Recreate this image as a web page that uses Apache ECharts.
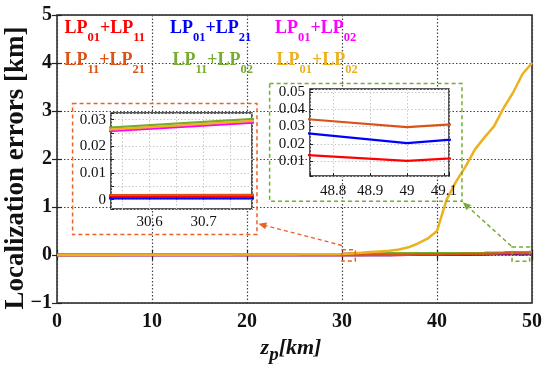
<!DOCTYPE html>
<html><head><meta charset="utf-8">
<script src="https://cdn.jsdelivr.net/npm/echarts@6.0.0/dist/echarts.min.js"></script>
<style>html,body{margin:0;padding:0;background:#fff}#c{width:550px;height:375px}</style>
</head><body><div id="c"></div>
<script>
// ---------- data ----------
const zp = [0,1,2,3,4,5,6,7,8,9,10,11,12,13,14,15,16,17,18,19,20,21,22,23,24,25,26,27,28,29,30,31,32,33,34,35,36,37,38,39,40,41,42,43,44,45,46,47,48,49,50];
const xTicks = [0,10,20,30,40,50];
const yTicks = [-1,0,1,2,3,4,5];

const lp01_lp11 = [0.0002,0.0003,0.0003,0.0004,0.0004,0.0005,0.0005,0.0005,0.0006,0.0006,
  0.0006,0.0007,0.0007,0.0007,0.0008,0.0008,0.0008,0.0009,0.0009,0.0009,
  0.0010,0.0010,0.0010,0.0011,0.0011,0.0011,0.0011,0.0012,0.0012,0.0012,
  0.0012,0.0013,0.0015,0.0017,0.0019,0.0022,0.0025,0.0029,0.0034,0.0040,
  0.0047,0.0055,0.0065,0.0078,0.0092,0.0110,0.0135,0.0175,0.0227,0.0102,0.0225];
const lp01_lp21 = [0.0001,0.0001,0.0001,0.0001,0.0002,0.0002,0.0002,0.0002,0.0002,0.0002,
  0.0002,0.0003,0.0003,0.0003,0.0003,0.0003,0.0003,0.0003,0.0003,0.0003,
  0.0004,0.0004,0.0004,0.0004,0.0004,0.0004,0.0004,0.0004,0.0004,0.0004,
  0.0004,0.0005,0.0008,0.0012,0.0017,0.0024,0.0032,0.0042,0.0055,0.0070,
  0.0088,0.0108,0.0130,0.0155,0.0182,0.0212,0.0245,0.0300,0.0413,0.0204,0.0379];
const lp01_lp02m = [0.0010,0.0012,0.0014,0.0017,0.0019,0.0022,0.0025,0.0028,0.0031,0.0034,
  0.0038,0.0042,0.0046,0.0050,0.0055,0.0060,0.0065,0.0070,0.0076,0.0082,
  0.0088,0.0095,0.0102,0.0110,0.0118,0.0127,0.0136,0.0146,0.0158,0.0175,
  0.0194,0.0314,0.0318,0.0322,0.0326,0.0330,0.0334,0.0338,0.0342,0.0346,
  0.0350,0.0356,0.0362,0.0370,0.0380,0.0392,0.0410,0.0450,0.0548,0.0532,0.0555];
const lp11_lp21 = [0.0003,0.0003,0.0004,0.0004,0.0005,0.0005,0.0006,0.0006,0.0007,0.0007,
  0.0008,0.0008,0.0009,0.0009,0.0010,0.0010,0.0011,0.0011,0.0012,0.0012,
  0.0013,0.0013,0.0014,0.0014,0.0015,0.0015,0.0015,0.0016,0.0016,0.0016,
  0.0017,0.0018,0.0022,0.0028,0.0036,0.0046,0.0058,0.0072,0.0088,0.0106,
  0.0126,0.0148,0.0172,0.0198,0.0226,0.0256,0.0290,0.0350,0.0467,0.0296,0.0436];
const lp11_lp02 = [0.0011,0.0013,0.0015,0.0018,0.0020,0.0023,0.0026,0.0029,0.0032,0.0035,
  0.0039,0.0043,0.0047,0.0051,0.0056,0.0061,0.0066,0.0071,0.0077,0.0083,
  0.0089,0.0096,0.0103,0.0111,0.0119,0.0128,0.0137,0.0148,0.0162,0.0182,
  0.0206,0.0328,0.0330,0.0333,0.0336,0.0339,0.0342,0.0345,0.0348,0.0351,
  0.0354,0.0359,0.0365,0.0373,0.0383,0.0395,0.0413,0.0455,0.0552,0.0535,0.0560];
const lp01_lp02o = [0.0010,0.0012,0.0014,0.0017,0.0019,0.0022,0.0025,0.0028,0.0031,0.0034,
  0.0038,0.0042,0.0046,0.0050,0.0055,0.0060,0.0065,0.0070,0.0076,0.0082,
  0.0088,0.0095,0.0102,0.0110,0.0118,0.0127,0.0136,0.0147,0.0160,0.0180,
  0.0200,0.0320,0.045,0.060,0.075,0.090,0.115,0.160,0.240,0.340,
  0.500,1.150,1.530,1.840,2.200,2.450,2.680,3.060,3.380,3.770,4.000];

const seriesNames = ['LP01+LP11','LP01+LP21','LP01+LP02 (m)','LP11+LP21','LP11+LP02','LP01+LP02'];
const seriesVals = [lp01_lp11, lp01_lp21, lp01_lp02m, lp11_lp21, lp11_lp02, lp01_lp02o];
const seriesColors = ['#ff0000','#0000ff','#ff00ff','#d95319','#77ac30','#edb120'];
// legend labels: [main1, sub1, main2, sub2]
const legendLabels = [['LP','01','+LP','11'],['LP','01','+LP','21'],['LP','01','+LP','02'],
                      ['LP','11','+LP','21'],['LP','11','+LP','02'],['LP','01','+LP','02']];
const drawOrder = [0,1,2,4,3,5];

// inset ranges
const inset1X = [30.5285, 30.7896], inset1Y = [-0.0035, 0.0325];
const inset2X = [48.737, 49.114],  inset2Y = [0.0015, 0.0516];

// annotation geometry (data coordinates of main axes)
const box1 = [[1.64, 3.154],[21.05, 0.425]];
const box1small = [[30.0, 0.11],[31.4, -0.125]];
const arrow1 = [[30.0, 0.2],[21.2, 0.65]];
const box2 = [[22.38, 3.571],[42.63, 1.119]];
const box2small = [[47.9, 0.167],[49.75, -0.131]];
const arrow2 = [[47.8, 0.19],[42.72, 1.10]];

// ---------- chart ----------
const SERIF = 'Liberation Serif, Times New Roman, serif';
const chart = echarts.init(document.getElementById('c'), null, {renderer:'canvas'});

function pairs(vals){ return zp.map((x,i)=>[x, vals[i]]); }
function isMult(v, step){ const r = v/step; return Math.abs(r - Math.round(r)) < 1e-6; }

const mainLabel = {fontFamily:SERIF, fontWeight:'bold', fontSize:20, color:'#111'};
const insetLabel = {fontFamily:SERIF, fontWeight:'normal', fontSize:15, color:'#111'};

const grids = [
  {left:57, top:15, width:475, height:288, show:true, backgroundColor:'rgba(0,0,0,0)', borderColor:'#222', borderWidth:1.5, containLabel:false, outerBoundsMode:'none', z:0},
  {left:111, top:113, width:141, height:96, show:true, backgroundColor:'#fff', borderColor:'#222', borderWidth:1.5, containLabel:false, outerBoundsMode:'none', z:5},
  {left:310, top:89, width:139, height:87, show:true, backgroundColor:'#fff', borderColor:'#222', borderWidth:1.5, containLabel:false, outerBoundsMode:'none', z:5}
];

const xAxes = [
  {type:'value', gridIndex:0, min:xTicks[0], max:xTicks[xTicks.length-1], interval:10, position:'bottom',
   axisLine:{show:false}, axisTick:{show:true, inside:true, length:5, lineStyle:{color:'#222', width:1.2}},
   splitLine:{show:true, lineStyle:{color:'#444', width:1.2, type:[1.5,2]}},
   axisLabel:{...mainLabel, margin:9, hideOverlap:false}},
  {type:'value', gridIndex:1, min:inset1X[0], max:inset1X[1], splitNumber:5, z:6,
   axisLine:{show:false}, axisTick:{show:true, inside:true, length:3, lineStyle:{color:'#222'}},
   splitLine:{show:true, lineStyle:{color:'#c8c8c8', width:1, type:[1.5,2]}},
   axisLabel:{...insetLabel, margin:6, hideOverlap:false, showMinLabel:true, showMaxLabel:true,
     formatter:v=> isMult(v,0.1) ? String(Math.round(v*10)/10) : ''}},
  {type:'value', gridIndex:2, min:inset2X[0], max:inset2X[1], splitNumber:5, z:6,
   axisLine:{show:false}, axisTick:{show:true, inside:true, length:3, lineStyle:{color:'#222'}},
   splitLine:{show:true, lineStyle:{color:'#c8c8c8', width:1, type:[1.5,2]}},
   axisLabel:{...insetLabel, margin:8, hideOverlap:false,
     formatter:v=> isMult(v,0.1) ? String(Math.round(v*10)/10) : ''}},
  {type:'value', gridIndex:0, min:xTicks[0], max:xTicks[xTicks.length-1], interval:10, position:'top',
   axisLine:{show:false}, axisTick:{show:true, inside:true, length:5, lineStyle:{color:'#222', width:1.2}},
   splitLine:{show:false}, axisLabel:{show:false}}
];
const yAxes = [
  {type:'value', gridIndex:0, min:yTicks[0], max:yTicks[yTicks.length-1], interval:1, position:'left',
   axisLine:{show:false}, axisTick:{show:true, inside:true, length:5, lineStyle:{color:'#222', width:1.2}},
   splitLine:{show:true, lineStyle:{color:'#444', width:1.2, type:[1.5,2]}},
   axisLabel:{...mainLabel, margin:5, hideOverlap:false, formatter:v=> String(v).replace('-', '\u2212')}},
  {type:'value', gridIndex:1, min:inset1Y[0], max:inset1Y[1], splitNumber:7, z:6,
   axisLine:{show:false}, axisTick:{show:true, inside:true, length:3, lineStyle:{color:'#222'}},
   splitLine:{show:true, lineStyle:{color:'#c8c8c8', width:1, type:[1.5,2]}},
   axisLabel:{...insetLabel, margin:5, hideOverlap:false,
     formatter:v=> isMult(v,0.01) ? (Math.abs(v)<1e-9 ? '0' : v.toFixed(2)) : ''}},
  {type:'value', gridIndex:2, min:inset2Y[0], max:inset2Y[1], splitNumber:5, z:6,
   axisLine:{show:false}, axisTick:{show:true, inside:true, length:3, lineStyle:{color:'#222'}},
   splitLine:{show:true, lineStyle:{color:'#c8c8c8', width:1, type:[1.5,2]}},
   axisLabel:{...insetLabel, margin:5, hideOverlap:false,
     formatter:v=> isMult(v,0.01) ? v.toFixed(2) : ''}},
  {type:'value', gridIndex:0, min:yTicks[0], max:yTicks[yTicks.length-1], interval:1, position:'right',
   axisLine:{show:false}, axisTick:{show:true, inside:true, length:5, lineStyle:{color:'#222', width:1.2}},
   splitLine:{show:false}, axisLabel:{show:false}}
];

const series = [];
[[0,0,2.5,2],[1,1,2.2,7],[2,2,2.2,7]].forEach(([xi,yi,w,z])=>{
  drawOrder.forEach(k=>{
    series.push({type:'line', name:seriesNames[k], xAxisIndex:xi, yAxisIndex:yi, data:pairs(seriesVals[k]),
      showSymbol:false, symbol:'none', clip:true, z:z, silent:true, animation:false,
      lineStyle:{color:seriesColors[k], width:w}, itemStyle:{color:seriesColors[k]}});
  });
});

// legend as rich text
const legendGraphics = [];
const legendPos = [[64.5,19.5],[170,19.5],[275,19.5],[64.5,51.5],[172.5,51.5],[276.5,51.5]];
legendLabels.forEach((lab,i)=>{
  const c = seriesColors[i];
  legendGraphics.push({type:'text', x:legendPos[i][0], y:legendPos[i][1], z:20, silent:true,
    style:{text:'{a|'+lab[0]+'}{b|'+lab[1]+'}{a|'+lab[2]+'}{b|'+lab[3]+'}', verticalAlign:'top', align:'left',
      rich:{a:{fontFamily:SERIF, fontWeight:'bold', fontSize:18, fill:c, padding:[0,0,7,0], verticalAlign:'bottom'},
            b:{fontFamily:SERIF, fontWeight:'bold', fontSize:12.5, fill:c, verticalAlign:'bottom'}}}});
});

const option = {
  animation:false,
  backgroundColor:'#fff',
  grid:grids, xAxis:xAxes, yAxis:yAxes, series:series,
  graphic:[
    ...legendGraphics,
    {type:'text', x:16, y:168, rotation:Math.PI/2, z:20, silent:true,
     style:{text:'Localization errors [km]', fontFamily:SERIF, fontWeight:'bold', fontSize:27, fill:'#111', align:'center', verticalAlign:'middle'}},
    {type:'text', x:291, y:337, z:20, silent:true,
     style:{text:'{z|z}{p|p}{k|[km]}', align:'center', verticalAlign:'top',
       rich:{z:{fontFamily:SERIF, fontWeight:'bold', fontStyle:'italic', fontSize:22, fill:'#111', padding:[0,0,6,0], verticalAlign:'bottom'},
             p:{fontFamily:SERIF, fontWeight:'bold', fontStyle:'italic', fontSize:19, fill:'#111', verticalAlign:'bottom'},
             k:{fontFamily:SERIF, fontWeight:'bold', fontStyle:'italic', fontSize:22, fill:'#111', padding:[0,0,6,0], verticalAlign:'bottom'}}}}
  ]
};
chart.setOption(option);

// annotations positioned via main-axis data coordinates
function P(p){ return chart.convertToPixel({xAxisIndex:0, yAxisIndex:0}, p); }
function rectG(b, color){
  const a = P(b[0]), c = P(b[1]);
  return {type:'rect', z:15, silent:true,
    shape:{x:Math.min(a[0],c[0]), y:Math.min(a[1],c[1]), width:Math.abs(c[0]-a[0]), height:Math.abs(c[1]-a[1])},
    style:{fill:null, stroke:color, lineWidth:1.5, lineDash:[4,3]}};
}
function arrowG(seg, color){
  const a = P(seg[0]), b = P(seg[1]);
  const dx = b[0]-a[0], dy = b[1]-a[1], L = Math.hypot(dx,dy), ux = dx/L, uy = dy/L;
  const s = 8, w = 3.5;
  const bx = b[0]-ux*s, by = b[1]-uy*s;
  return [
    {type:'line', z:15, silent:true, shape:{x1:a[0], y1:a[1], x2:bx, y2:by}, style:{stroke:color, lineWidth:1.5, lineDash:[4,3]}},
    {type:'polygon', z:15, silent:true, shape:{points:[[b[0],b[1]],[bx-uy*w, by+ux*w],[bx+uy*w, by-ux*w]]}, style:{fill:color}}
  ];
}
const ann = [
  rectG(box1, '#e8632a'), rectG(box1small, '#e8632a'), ...arrowG(arrow1, '#e8632a'),
  rectG(box2, '#77ac30'), rectG(box2small, '#77ac30'), ...arrowG(arrow2, '#77ac30')
];
chart.setOption({graphic: option.graphic.concat(ann)});
</script></body></html>
